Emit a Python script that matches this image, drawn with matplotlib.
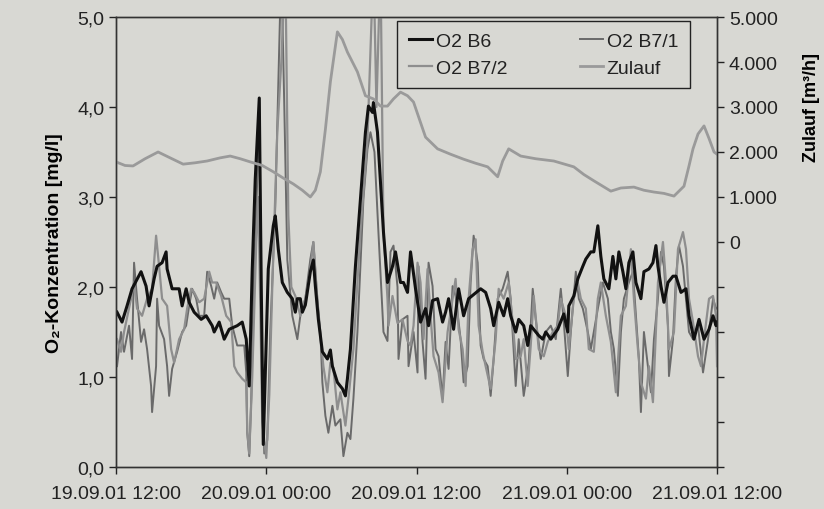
import matplotlib
matplotlib.use('Agg')
import matplotlib.pyplot as plt
from matplotlib.ticker import FuncFormatter

plt.rcParams['font.family'] = ['Liberation Sans', 'DejaVu Sans']

# time axis: hours after 19.09.01 12:00
tick_hours = [0, 12, 24, 36, 48]
tick_labels = ['19.09.01 12:00', '20.09.01 00:00', '20.09.01 12:00',
               '21.09.01 00:00', '21.09.01 12:00']

# O2 B6 [mg/l]
b6_t = [0.08, 0.48, 0.88, 1.28, 2.0, 2.4, 2.64, 3.04, 3.28, 3.68, 4.0, 4.08, 4.48, 5.04, 5.28,
        5.6, 5.84, 6.24, 6.8, 7.2, 7.68, 7.84, 8.24, 8.64, 9.04, 9.68, 10.08, 10.4, 10.64, 10.88,
        11.12, 11.44, 11.6, 11.76, 12.16, 12.56, 12.72, 12.96, 13.28, 13.68, 14.08, 14.32, 14.48,
        14.72, 14.88, 15.12, 15.52, 15.76, 15.92, 16.16, 16.48, 16.88, 17.12, 17.28, 17.68, 18.08,
        18.32, 18.48, 18.72, 19.12, 19.52, 19.92, 20.16, 20.48, 20.56, 20.88, 21.12, 21.36, 21.68,
        22.08, 22.32, 22.72, 22.96, 23.28, 23.52, 23.68, 23.92, 24.32, 24.72, 24.96, 25.28, 25.68,
        26.08, 26.32, 26.56, 26.96, 27.36, 27.76, 28.16, 29.12, 29.52, 29.92, 30.16, 30.56, 30.96,
        31.28, 31.52, 31.92, 32.16, 32.56, 32.88, 33.12, 33.76, 34.08, 34.32, 34.72, 35.28, 35.76,
        36.08, 36.16, 36.56, 36.88, 37.28, 37.52, 37.92, 38.16, 38.48, 38.72, 38.96, 39.36, 39.68,
        39.92, 40.16, 40.48, 40.72, 40.96, 41.28, 41.52, 41.92, 42.16, 42.56, 42.88, 43.12, 43.28,
        43.52, 43.76, 44.08, 44.48, 44.72, 45.12, 45.52, 45.76, 46.16, 46.56, 46.96, 47.36, 47.68,
        47.92, 48.0]
b6_v = [1.72, 1.61, 1.79, 1.98, 2.17, 2.01, 1.79, 2.09, 2.23, 2.27, 2.39, 2.2, 1.98, 1.98, 1.79,
        1.98, 1.83, 1.72, 1.64, 1.68, 1.57, 1.5, 1.61, 1.42, 1.53, 1.57, 1.61, 1.42, 0.9, 2.2,
        3.2, 4.1, 2.0, 0.25, 2.2, 2.68, 2.79, 2.42, 2.05, 1.94, 1.87, 1.72, 1.87,
        1.87, 1.72, 1.8, 2.17, 2.3, 2.01, 1.64, 1.28, 1.2, 1.3, 1.12, 0.94, 0.87,
        0.79, 0.98, 1.31, 2.23, 2.98, 3.72, 4.01, 3.94, 4.05, 3.72, 3.17, 2.61, 2.05,
        2.23, 2.39, 2.05, 2.05, 1.94, 2.39, 2.23, 1.98, 1.61, 1.76, 1.57, 1.85, 1.87,
        1.61, 1.72, 1.87, 1.53, 1.98, 1.68, 1.87, 1.98, 1.94, 1.76, 1.57, 1.83, 1.68,
        1.87, 1.68, 1.5, 1.64, 1.57, 1.35, 1.57, 1.46, 1.42, 1.5, 1.42, 1.53, 1.7,
        1.5, 1.79, 1.9, 2.09, 2.23, 2.31, 2.39, 2.39, 2.68, 2.34, 2.09, 1.98, 2.34,
        2.09, 2.39, 2.17, 1.98, 2.27, 2.39, 2.05, 1.87, 2.17, 2.2, 2.27, 2.46, 2.23,
        2.01, 1.83, 2.05, 2.12, 2.12, 1.94, 1.98, 1.68, 1.42, 1.64, 1.42, 1.53, 1.68,
        1.57, 1.61]

# O2 B7/1 [mg/l]
b71_t = [0.08, 0.4, 0.64, 1.04, 1.28, 1.44, 1.68, 2.0, 2.24, 2.48, 2.8, 2.88, 3.2, 3.28, 3.44,
         3.84, 4.08, 4.24, 4.48, 4.88, 5.28, 5.6, 5.84, 6.08, 6.4, 6.64, 7.04, 7.28, 7.6, 7.84,
         8.08, 8.4, 8.64, 9.04, 9.28, 9.68, 10.0, 10.24, 10.4, 10.48, 10.64, 10.8, 11.04, 11.28,
         11.44, 11.6, 11.84, 12.08, 12.32, 12.72, 13.2, 13.44, 13.68, 14.08, 14.48, 14.72, 15.12,
         15.52, 15.76, 16.08, 16.32, 16.48, 16.72, 16.96, 17.28, 17.52, 17.92, 18.16, 18.48, 18.72,
         18.96, 19.28, 19.52, 19.76, 20.08, 20.32, 20.64, 20.96, 21.36, 21.68, 21.92, 22.16, 22.48,
         22.56, 22.88, 23.28, 23.36, 23.76, 24.08, 24.16, 24.48, 24.72, 24.96, 25.28, 25.52, 25.76,
         26.08, 26.32, 26.56, 26.88, 27.12, 27.52, 27.76, 28.08, 28.32, 28.56, 28.88, 29.12, 29.36,
         29.68, 29.92, 30.16, 30.48, 30.88, 31.28, 31.52, 31.92, 32.16, 32.56, 32.96, 33.28, 33.52,
         33.92, 34.32, 34.72, 35.12, 35.52, 35.76, 36.08, 36.32, 36.72, 36.96, 37.28, 37.68, 37.92,
         38.16, 38.48, 38.88, 39.28, 39.52, 39.76, 40.08, 40.32, 40.56, 40.96, 41.28, 41.52, 41.76,
         41.92, 42.16, 42.48, 42.72, 42.96, 43.28, 43.52, 43.76, 44.08, 44.16, 44.48, 44.72, 44.96,
         45.28, 45.52, 45.76, 46.08, 46.48, 46.88, 47.28, 47.68, 47.92, 48.0]
b71_v = [1.12, 1.5, 1.28, 1.57, 1.2, 2.27, 1.87, 1.39, 1.53, 1.31, 0.9, 0.61, 1.12, 1.87, 1.57,
         1.42, 1.12, 0.79, 1.09, 1.28, 1.5, 1.57, 1.79, 1.98, 1.87, 1.68, 1.68, 2.17, 2.01, 1.87,
         2.05, 1.94, 1.87, 1.87, 1.57, 1.35, 1.35, 1.35, 1.05, 0.38, 0.12, 0.76, 2.23, 3.2,
         4.1, 1.5, 0.15, 0.3, 1.5, 2.9, 5.6, 4.0, 2.3, 1.68, 1.42, 1.68, 1.87,
         2.31, 2.5, 1.87, 1.5, 0.94, 0.57, 0.38, 0.68, 0.46, 0.53, 0.12, 0.38, 0.31,
         0.76, 1.5, 2.23, 2.98, 3.53, 3.72, 3.5, 2.6, 1.5, 1.4, 2.39, 2.46, 2.0,
         1.2, 1.64, 1.68, 1.12, 1.5, 1.05, 2.23, 1.39, 0.98, 2.27, 2.01, 1.31, 1.23,
         0.76, 1.39, 1.09, 2.01, 1.9, 1.42, 0.94, 1.12, 2.05, 2.57, 2.27, 1.35, 1.2,
         1.12, 0.79, 1.2, 1.87, 1.98, 2.17, 1.87, 0.9, 1.42, 0.79, 1.16, 1.98, 1.64,
         1.2, 1.5, 1.57, 1.42, 1.98, 1.61, 1.01, 1.5, 2.17, 1.87, 1.76, 1.5, 1.31,
         1.5, 1.76, 2.05, 1.87, 1.5, 1.31, 0.79, 1.5, 1.87, 2.05, 2.17, 1.68, 1.2,
         0.61, 1.5, 1.12, 0.83, 1.42, 1.87, 2.39, 2.23, 1.57, 1.01, 1.42, 2.12, 2.46,
         2.23, 1.87, 1.5, 1.42, 1.57, 1.05, 1.42, 1.87, 1.76, 1.76]

# O2 B7/2 [mg/l]
b72_t = [0.08, 0.4, 0.64, 1.2, 1.44, 1.68, 2.08, 2.48, 2.88, 3.2, 3.44, 3.68, 4.08, 4.4, 4.64,
         5.04, 5.44, 5.68, 6.0, 6.24, 6.64, 7.04, 7.44, 7.68, 8.0, 8.4, 8.8, 9.2, 9.44, 9.68,
         10.08, 10.4, 10.48, 10.64, 10.88, 11.2, 11.36, 11.52, 11.68, 12.0, 12.24, 12.48, 12.88,
         13.2, 13.52, 13.76, 14.0, 14.32, 14.72, 15.12, 15.52, 15.76, 16.16, 16.56, 16.88, 17.12,
         17.36, 17.68, 17.92, 18.32, 18.56, 18.96, 19.52, 20.08, 20.56, 20.8, 21.12, 21.36, 21.68,
         21.76, 22.08, 22.48, 22.88, 23.28, 23.52, 23.76, 24.08, 24.32, 24.56, 24.88, 25.12, 25.36,
         25.76, 26.08, 26.48, 26.88, 27.12, 27.36, 27.68, 27.92, 28.16, 28.48, 28.72, 28.96, 29.28,
         29.52, 29.92, 30.32, 30.56, 30.96, 31.36, 31.68, 31.92, 32.32, 32.56, 32.88, 33.12, 33.36,
         33.76, 34.16, 34.48, 34.88, 35.28, 35.52, 35.92, 36.16, 36.56, 36.88, 37.12, 37.52, 37.76,
         38.16, 38.48, 38.72, 39.12, 39.52, 39.92, 40.32, 40.72, 41.12, 41.36, 41.68, 41.92, 42.32,
         42.56, 42.88, 43.28, 43.68, 43.92, 44.16, 44.56, 44.88, 45.28, 45.52, 45.76, 46.08, 46.48,
         46.72, 46.96, 47.36, 47.68, 47.92, 48.0]
b72_v = [1.42, 1.28, 1.5, 1.87, 2.05, 1.76, 1.68, 1.87, 1.98, 2.57, 2.23, 1.87, 1.79, 1.31, 1.16,
         1.42, 1.53, 1.76, 1.98, 1.94, 1.83, 1.87, 2.17, 2.05, 2.05, 1.9, 1.68, 1.61, 1.12, 1.05,
         0.98, 0.94, 0.4, 0.15, 1.0, 2.5, 3.0, 1.8, 0.5, 0.1, 0.8, 2.0, 3.72,
         4.5, 5.6, 2.8, 2.0, 1.9, 1.68, 1.87, 2.2, 2.5, 1.68, 1.12, 0.83, 1.16,
         1.1, 0.64, 0.83, 0.46, 0.76, 1.31, 2.61, 3.64, 5.6, 4.0, 5.6, 2.61, 1.87,
         1.57, 1.9, 1.6, 1.64, 1.4, 1.35, 1.57, 2.27, 2.05, 1.42, 2.2, 1.68, 1.23,
         1.05, 0.72, 1.5, 1.87, 2.09, 1.53, 1.31, 0.9, 1.87, 2.42, 2.53, 1.57, 1.28,
         1.12, 0.87, 1.42, 1.98, 1.87, 2.05, 1.61, 1.2, 1.23, 1.42, 0.9, 1.35, 1.9,
         1.31, 1.23, 1.39, 1.5, 1.57, 1.87, 1.68, 1.31, 1.87, 2.05, 1.87, 1.76, 1.31,
         1.28, 1.87, 2.05, 1.68, 1.39, 0.83, 1.68, 1.79, 2.42, 1.87, 1.31, 0.94, 0.76,
         1.12, 0.72, 2.05, 2.5, 2.05, 1.31, 1.5, 2.42, 2.61, 2.42, 1.87, 1.61, 1.23,
         1.12, 1.42, 1.87, 1.9, 1.68, 1.12]

# Zulauf [m3/h]
zul_t = [0, 0.72, 1.36, 2.32, 3.36, 4.32, 5.36, 6.32, 7.28, 8.32, 9.12, 9.92, 10.72, 11.68, 12.56,
         13.36, 14.16, 14.88, 15.52, 15.92, 16.32, 16.72, 17.12, 17.68, 18.08, 18.48, 19.28, 19.92,
         20.56, 21.12, 21.68, 22.16, 22.72, 23.28, 23.76, 24.72, 25.68, 26.72, 27.76, 28.72, 29.68,
         30.48, 30.88, 31.36, 32.32, 33.52, 34.96, 36.56, 37.36, 38.16, 39.52, 40.32, 41.36, 42.16,
         42.96, 43.76, 44.56, 45.36, 45.76, 46.08, 46.48, 46.96, 47.36, 47.76, 48.0]
zul_v = [1780, 1700, 1690, 1850, 2000, 1870, 1730, 1760, 1800, 1870, 1910, 1850, 1780, 1700, 1560,
         1420, 1290, 1150, 1000, 1150, 1560, 2500, 3560, 4670, 4500, 4220, 3780, 3250,
         3180, 3020, 3020, 3180, 3330, 3250, 3110, 2330, 2070, 1950, 1840, 1750, 1670,
         1450, 1800, 2070, 1910, 1850, 1800, 1670, 1500, 1360, 1130, 1200, 1220, 1150,
         1110, 1080, 1020, 1240, 1690, 2070, 2400, 2580, 2300, 2000, 1950]

bg = '#d8d8d3'
fig = plt.figure(figsize=(8.24, 5.1), dpi=100, facecolor=bg)
ax = fig.add_axes([0.1408, 0.0824, 0.7294, 0.8823], facecolor=bg)
ax2 = ax.twinx()

l_b6, = ax.plot(b6_t, b6_v, color='#111111', lw=2.2, label='O2 B6', zorder=5)
l_b71, = ax.plot(b71_t, b71_v, color='#6a6a6a', lw=1.4, label='O2 B7/1', zorder=3)
l_b72, = ax.plot(b72_t, b72_v, color='#8e8e8e', lw=1.6, label='O2 B7/2', zorder=4)
l_zul, = ax2.plot(zul_t, zul_v, color='#9a9a9a', lw=2.0, label='Zulauf')

ax.set_xlim(0, 48)
ax.set_ylim(0, 5)
ax2.set_ylim(-5000, 5000)

ax.set_xticks(tick_hours)
ax.set_xticklabels(tick_labels)
ax.set_yticks([0, 1, 2, 3, 4, 5])
ax.yaxis.set_major_formatter(FuncFormatter(lambda v, _: f'{v:.1f}'.replace('.', ',')))
ax2.set_yticks(range(-5000, 5001, 1000))
ax2.yaxis.set_major_formatter(
    FuncFormatter(lambda v, _: f'{int(v):,}'.replace(',', '.') if v >= 0 else ''))

ax.tick_params(axis='both', labelsize=14, length=5, width=1, colors='#222222')
ax2.tick_params(axis='y', labelsize=14, length=5, width=1, colors='#222222')
ax.tick_params(axis='x', pad=8)
for a in (ax, ax2):
    for s in a.spines.values():
        s.set_color('#333333')
        s.set_linewidth(1.0)

ax.set_ylabel('O₂-Konzentration [mg/l]', fontsize=14, fontweight='bold', labelpad=10)
fig.text(0.985, 0.79, 'Zulauf [m³/h]', rotation=90, fontsize=13, fontweight='bold',
         ha='center', va='center')

ax2.legend([l_b6, l_b72, l_b71, l_zul], ['O2 B6', 'O2 B7/2', 'O2 B7/1', 'Zulauf'],
           ncol=2, loc='upper left', bbox_to_anchor=(0.482, 0.957),
           bbox_transform=fig.transFigure, borderaxespad=0, frameon=True, fancybox=False,
           edgecolor='#222222', facecolor=bg, framealpha=1, fontsize=14,
           handlelength=1.2, handletextpad=0.2, columnspacing=3.7,
           borderpad=0.6, labelspacing=0.45)
for t in ax2.get_legend().get_texts():
    t.set_color('#222222')

fig.savefig('out.png', dpi=100, facecolor=bg)
